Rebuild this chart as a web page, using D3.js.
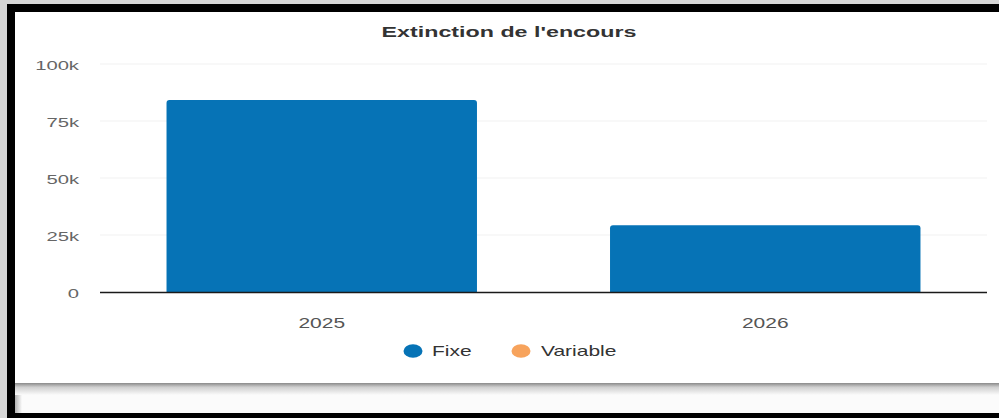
<!DOCTYPE html>
<html>
<head>
<meta charset="utf-8">
<script src="https://cdn.jsdelivr.net/npm/d3@7"></script>
<style>
  html, body { margin: 0; padding: 0; background: #d6d6d6; }
  svg { display: block; }
</style>
</head>
<body>
<div id="chart"></div>
<script>
// Chart data
const title = "Extinction de l'encours";
const categories = ["2025", "2026"];
const fixeValues = [84200, 29300];
const variableValues = [0, 0];
const seriesNames = ["Fixe", "Variable"];
const seriesColors = ["#0673b6", "#f7a35c"];
const yTicks = [0, 25000, 50000, 75000, 100000];
const yTickLabels = ["0", "25k", "50k", "75k", "100k"];

const W = 999, H = 418;
const SX = 1.5; // horizontal stretch applied to text
const fontFamily = "'Liberation Sans', Arial, sans-serif";

const svg = d3.select("#chart").append("svg")
  .attr("width", W).attr("height", H);

const defs = svg.append("defs");
const shadowV = defs.append("linearGradient").attr("id", "shadowV")
  .attr("x1", 0).attr("y1", 0).attr("x2", 0).attr("y2", 1);
shadowV.append("stop").attr("offset", "0%").attr("stop-color", "#8a8a8a");
shadowV.append("stop").attr("offset", "35%").attr("stop-color", "#cfcfcf");
shadowV.append("stop").attr("offset", "100%").attr("stop-color", "#fbfbfb");
const shadowH = defs.append("linearGradient").attr("id", "shadowH")
  .attr("x1", 0).attr("y1", 0).attr("x2", 1).attr("y2", 0);
shadowH.append("stop").attr("offset", "0%").attr("stop-color", "#b0b0b0");
shadowH.append("stop").attr("offset", "100%").attr("stop-color", "#fbfbfb");

// Frame: black outline, lower panel and white card
svg.append("rect").attr("x", 7).attr("y", 4).attr("width", W - 7).attr("height", H - 4).attr("fill", "#000");
svg.append("rect").attr("x", 15).attr("y", 12).attr("width", W - 15).attr("height", 401).attr("fill", "#fbfbfb");
svg.append("rect").attr("x", 15).attr("y", 383).attr("width", 7).attr("height", 30).attr("fill", "url(#shadowH)");
svg.append("rect").attr("x", 15).attr("y", 383).attr("width", W - 15).attr("height", 12).attr("fill", "url(#shadowV)");
svg.append("rect").attr("x", 15).attr("y", 12).attr("width", W - 15).attr("height", 371).attr("fill", "#fff");

// Scales
const plot = { left: 100, right: 987, top: 64, bottom: 292 };
const x = d3.scaleBand().domain(categories)
  .range([plot.left, plot.right]).paddingInner(0.3).paddingOuter(0.15);
const y = d3.scaleLinear().domain([0, 100000]).range([plot.bottom, plot.top]);

function stretchedText(sel, tx, ty, anchor) {
  return sel.attr("transform", `translate(${tx},${ty}) scale(${SX},1)`)
    .attr("text-anchor", anchor || "middle");
}

// Title
stretchedText(svg.append("text"), 509, 37)
  .attr("font-family", fontFamily).attr("font-size", 15.5).attr("font-weight", "bold")
  .attr("fill", "#333").text(title);

// Gridlines
svg.append("g").selectAll("line").data(yTicks.slice(1)).join("line")
  .attr("x1", plot.left).attr("x2", plot.right)
  .attr("y1", d => y(d)).attr("y2", d => y(d))
  .attr("stroke", "#f1f1f1").attr("stroke-width", 1);

// Y tick labels
svg.append("g").selectAll("text").data(yTicks).join("text")
  .each(function(d, i) {
    stretchedText(d3.select(this), 79, y(d) + 6, "end")
      .attr("font-family", fontFamily).attr("font-size", 13.5)
      .attr("fill", "#666").text(yTickLabels[i]);
  });

// Stacked bars: Fixe at the bottom, Variable on top
const stackData = categories.map((c, i) => ({ cat: c, Fixe: fixeValues[i], Variable: variableValues[i] }));
const stacked = d3.stack().keys(seriesNames)(stackData);
const r = 3;
function barPath(x0, w, yTop, yBot) {
  const h = yBot - yTop;
  if (h <= 0) return "";
  const rr = Math.min(r, h);
  return `M${x0},${yBot}V${yTop + rr}Q${x0},${yTop} ${x0 + rr},${yTop}` +
    `H${x0 + w - rr}Q${x0 + w},${yTop} ${x0 + w},${yTop + rr}V${yBot}Z`;
}
stacked.forEach((layer, si) => {
  svg.append("g").selectAll("path").data(layer).join("path")
    .attr("d", d => barPath(x(d.data.cat), x.bandwidth(), y(d[1]), y(d[0])))
    .attr("fill", seriesColors[si]);
});

// X axis line
svg.append("line")
  .attr("x1", plot.left).attr("x2", plot.right)
  .attr("y1", y(0) + 0.5).attr("y2", y(0) + 0.5)
  .attr("stroke", "#1a1a1a").attr("stroke-width", 1.6);

// X labels
svg.append("g").selectAll("text").data(categories).join("text")
  .each(function(d) {
    stretchedText(d3.select(this), x(d) + x.bandwidth() / 2, 328)
      .attr("font-family", fontFamily).attr("font-size", 14)
      .attr("fill", "#555").text(d);
  });

// Legend
const legendItems = [
  { name: seriesNames[0], color: seriesColors[0], cx: 413, tx: 432 },
  { name: seriesNames[1], color: seriesColors[1], cx: 521, tx: 541 }
];
const lg = svg.append("g");
legendItems.forEach(item => {
  lg.append("ellipse").attr("cx", item.cx).attr("cy", 351)
    .attr("rx", 9.5).attr("ry", 6.8).attr("fill", item.color);
  stretchedText(lg.append("text"), item.tx, 356, "start")
    .attr("font-family", fontFamily).attr("font-size", 14)
    .attr("fill", "#333").text(item.name);
});
</script>
</body>
</html>
